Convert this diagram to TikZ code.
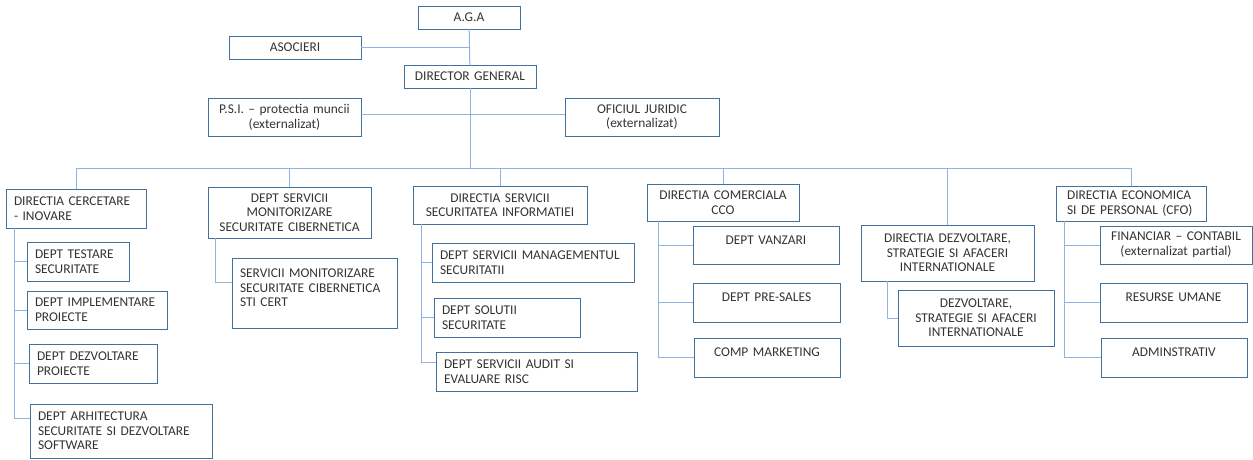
\documentclass[tikz,border=0pt]{standalone}
\usepackage{fontspec}
\setmainfont{Carlito}
\hyphenpenalty=10000
\definecolor{boxblue}{HTML}{41719C}
\definecolor{linkblue}{HTML}{8DB3E2}
\definecolor{txtgray}{HTML}{333333}
\tikzset{
	box/.style={draw=boxblue, line width=1pt, text=txtgray, inner xsep=6pt, inner ysep=0pt, outer sep=0pt, align=center, font=\fontsize{13.4}{14.6}\selectfont},
	lbox/.style={box, inner xsep=8pt, align=left},
	hi/.style={text depth=10pt},
	link/.style={draw=linkblue, line width=1pt}
}
\begin{document}
\begin{tikzpicture}[x=1pt,y=-1pt]
		\useasboundingbox (0,0) rectangle (1253,459);
		% top
		\node[box, text width=90pt, minimum height=23pt] (aga) at (469,17.5) {A.G.A};
		\node[box, text width=120pt, minimum height=23pt] (asoc) at (295,47.5) {ASOCIERI};
		\node[box, text width=120pt, minimum height=23pt] (dg) at (470,76.5) {DIRECTOR GENERAL};
		\node[box, text width=141pt, minimum height=38pt] (psi) at (284.5,117) {P.S.I. – protectia muncii\\(externalizat)};
		\node[box, text width=142pt, minimum height=38pt] (oj) at (642,117) {OFICIUL JURIDIC\\(externalizat)};
		\coordinate (bus) at (0,168);
		% directii
		\node[lbox, text width=124pt, minimum height=39pt] (dcer) at (76,208.5) {DIRECTIA CERCETARE\\{-} INOVARE};
		\node[box, text width=151pt, minimum height=51pt] (dmon) at (289.5,212.5) {DEPT SERVICII\\MONITORIZARE\\SECURITATE CIBERNETICA};
		\node[box, text width=162pt, minimum height=38pt] (dsec) at (500,205) {DIRECTIA SERVICII\\SECURITATEA INFORMATIEI};
		\node[box, text width=140pt, minimum height=37pt] (dcom) at (723,202.5) {DIRECTIA COMERCIALA\\CCO};
		\node[box, text width=161pt, minimum height=56pt] (ddez) at (947.5,253) {DIRECTIA DEZVOLTARE,\\STRATEGIE SI AFACERI\\INTERNATIONALE};
		\node[lbox, inner xsep=11pt, text width=128pt, minimum height=35pt] (deco) at (1131,203.5) {DIRECTIA ECONOMICA\\SI DE PERSONAL (CFO)};
		% departamente
		\node[lbox, text width=86pt, minimum height=39pt] (tst) at (78,261.5) {DEPT TESTARE\\SECURITATE};
		\node[lbox, text width=124pt, minimum height=38pt] (impl) at (97,310) {DEPT IMPLEMENTARE\\PROIECTE};
		\node[lbox, text width=112pt, minimum height=39pt] (dzv) at (93,363.5) {DEPT DEZVOLTARE\\PROIECTE};
		\node[lbox, text width=166pt, minimum height=54pt] (arh) at (121,431) {DEPT ARHITECTURA\\SECURITATE SI DEZVOLTARE\\SOFTWARE};
		\node[lbox, text width=149pt, minimum height=70pt] (smon) at (314.5,293) {SERVICII MONITORIZARE\\SECURITATE CIBERNETICA\\STI CERT\\[-4pt]\mbox{}};
		\node[lbox, text width=186pt, minimum height=39pt] (smg) at (533,262.5) {DEPT SERVICII MANAGEMENTUL\\SECURITATII};
		\node[lbox, text width=130pt, minimum height=39pt] (ssol) at (507,317.5) {DEPT SOLUTII\\SECURITATE};
		\node[lbox, text width=185pt, minimum height=39pt] (saud) at (536.5,371.5) {DEPT SERVICII AUDIT SI\\EVALUARE RISC};
		\node[box, hi, text width=134pt, minimum height=38pt] (vnz) at (766,245) {DEPT VANZARI};
		\node[box, hi, text width=135pt, minimum height=39pt] (psl) at (766.5,302.5) {DEPT PRE-SALES};
		\node[box, hi, text width=134pt, minimum height=39pt] (mkt) at (767,357.5) {COMP MARKETING};
		\node[box, text width=144pt, minimum height=56pt] (dzi) at (976,318) {DEZVOLTARE,\\STRATEGIE SI AFACERI\\INTERNATIONALE};
		\node[box, text width=140pt, minimum height=38pt] (fin) at (1176,245) {FINANCIAR – CONTABIL\\(externalizat partial)};
		\node[box, hi, text width=135pt, minimum height=39pt] (res) at (1173.5,302.5) {RESURSE UMANE};
		\node[box, hi, text width=134pt, minimum height=39pt] (adm) at (1174,357.5) {ADMINSTRATIV};
		% legaturi
		\draw[link] (aga) -- (dg);
		\draw[link] (asoc) -- (asoc -| aga);
		\draw[link] ([yshift=3pt]psi.east) -- ([yshift=3pt]oj.west);
		\draw[link] (dg) -- (dg |- bus);
		\draw[link] (dcer) |- (bus -| deco) -- (deco);
		\foreach \n in {dmon,dsec,dcom,ddez}
			\draw[link] (\n) -- (\n |- bus);
		\foreach \n in {tst,impl,dzv}
			\draw[link] ([xshift=8pt]dcer.south west) |- (\n.west);
		\draw[link] ([xshift=8pt]dcer.south west) |- ([yshift=13pt]arh.west);
		\draw[link] ([xshift=7pt]dmon.south west) |- ([yshift=11pt]smon.west);
		\foreach \n in {smg,ssol}
			\draw[link] ([xshift=8pt]dsec.south west) |- (\n.west);
		\draw[link] ([xshift=8pt]dsec.south west) |- ([yshift=9pt]saud.west);
		\foreach \n in {vnz,psl,mkt}
			\draw[link] ([xshift=11pt]dcom.south west) |- (\n.west);
		\draw[link] ([xshift=26pt]ddez.south west) |- (dzi.west);
		\foreach \n in {fin,res,adm}
			\draw[link] ([xshift=8pt]deco.south west) |- (\n.west);
	\end{tikzpicture}
\end{document}
